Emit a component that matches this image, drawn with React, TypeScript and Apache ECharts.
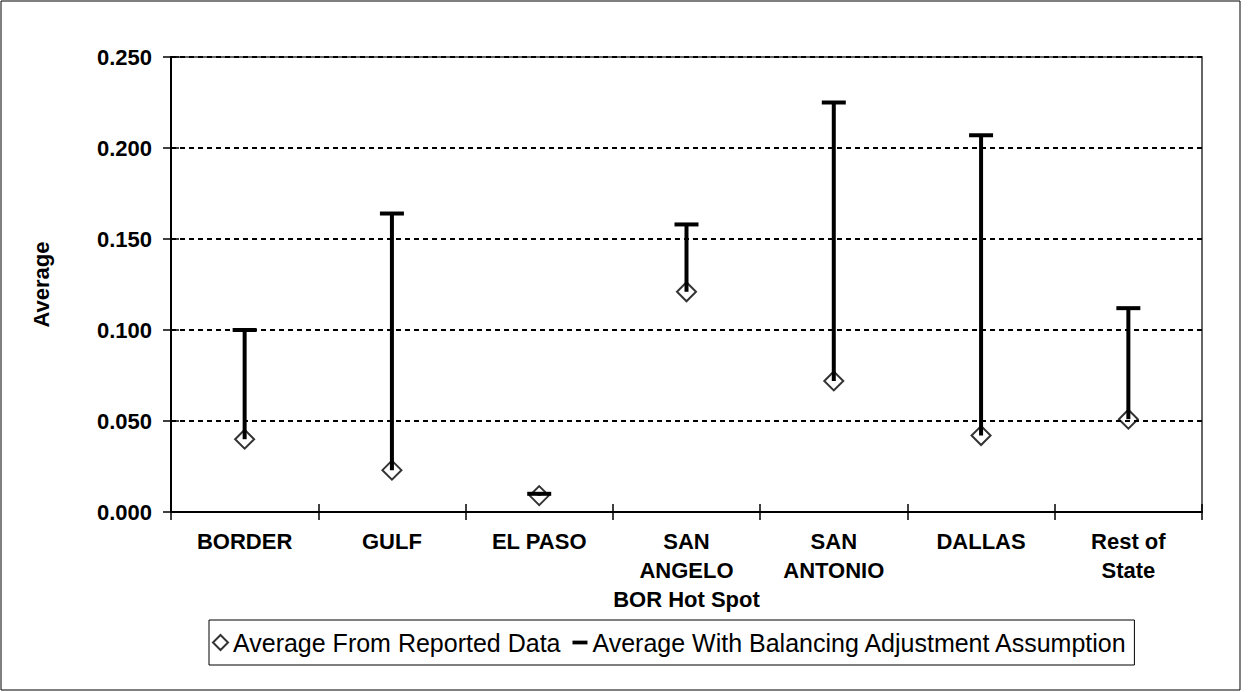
import React, { useEffect, useRef } from "react";
import * as echarts from "echarts";

const categories = [
  "BORDER",
  "GULF",
  "EL PASO",
  "SAN\nANGELO\nBOR Hot Spot",
  "SAN\nANTONIO",
  "DALLAS",
  "Rest of\nState",
];
const reported = [0.04, 0.023, 0.009, 0.121, 0.072, 0.042, 0.051];
const balanced = [0.1, 0.164, 0.01, 0.158, 0.225, 0.207, 0.112];
const seriesNames = [
  "Average From Reported Data",
  "Average With Balancing Adjustment Assumption",
];
const yTitle = "Average";

const FONT = "'Liberation Sans', Arial, sans-serif";

export default function App() {
  const ref = useRef<HTMLDivElement>(null);
  useEffect(() => {
    if (!ref.current) return;
    const chart = echarts.init(ref.current, null, { renderer: "svg" });
    const yCommon = {
      type: "value",
      min: 0,
      max: 0.25,
      interval: 0.05,
    };
    chart.setOption({
      animation: false,
      backgroundColor: "#fff",
      textStyle: { fontFamily: FONT },
      grid: {
        left: 171,
        right: 47,
        top: 57,
        bottom: 180,
        show: true,
        borderColor: "#333",
        borderWidth: 1.5,
      },
      graphic: [
        {
          type: "rect",
          shape: { x: 1, y: 1, width: 1239, height: 689 },
          style: { fill: "none", stroke: "#000", lineWidth: 1 },
          silent: true,
        },
      ],
      legend: {
        left: 209,
        top: 620,
        orient: "horizontal",
        borderColor: "#000",
        borderWidth: 1,
        padding: [10, 6, 10, 3],
        itemGap: 12,
        itemWidth: 15,
        itemHeight: 15,
        textStyle: { fontFamily: FONT, fontSize: 25, color: "#000" },
        data: [
          { name: seriesNames[0], icon: "diamond" },
          { name: seriesNames[1], icon: "path://M0,0 L16,0 L16,4 L0,4 Z" },
        ],
      },
      xAxis: [
        {
          type: "category",
          data: categories,
          boundaryGap: true,
          axisLine: { lineStyle: { color: "#000", width: 2 } },
          axisTick: { show: true, length: 8, lineStyle: { color: "#000", width: 1.5 } },
          axisLabel: {
            color: "#000",
            fontFamily: FONT,
            fontWeight: "bold",
            fontSize: 22,
            lineHeight: 29,
            margin: 15,
            interval: 0,
          },
        },
        {
          type: "category",
          data: categories,
          position: "bottom",
          boundaryGap: true,
          axisLine: { show: false },
          axisTick: { show: true, inside: true, length: 8, lineStyle: { color: "#000", width: 1.5 } },
          axisLabel: { show: false },
        },
      ],
      yAxis: [
        {
          ...yCommon,
          name: yTitle,
          nameLocation: "middle",
          nameGap: 119,
          nameTextStyle: {
            color: "#000",
            fontFamily: FONT,
            fontWeight: "bold",
            fontSize: 22,
          },
          axisLine: { show: true, lineStyle: { color: "#000", width: 2 } },
          axisTick: { show: true, length: 8, lineStyle: { color: "#000", width: 1.5 } },
          axisLabel: {
            color: "#000",
            fontFamily: FONT,
            fontWeight: "bold",
            fontSize: 22,
            margin: 19,
            formatter: (v: number) => v.toFixed(3),
          },
          splitLine: {
            show: true,
            lineStyle: { color: "#000", width: 2, type: [5, 4] },
          },
        },
        {
          ...yCommon,
          position: "left",
          axisLine: { show: false },
          axisTick: { show: true, inside: true, length: 8, lineStyle: { color: "#000", width: 1.5 } },
          axisLabel: { show: false },
          splitLine: { show: false },
        },
      ],
      series: [
        {
          name: seriesNames[0],
          type: "scatter",
          xAxisIndex: 0,
          yAxisIndex: 0,
          symbol: "diamond",
          symbolSize: 19,
          itemStyle: { color: "rgba(255,255,255,0)", borderColor: "#000", borderWidth: 2 },
          data: reported,
          z: 3,
        },
        {
          name: seriesNames[1],
          type: "custom",
          xAxisIndex: 0,
          yAxisIndex: 0,
          itemStyle: { color: "#000" },
          encode: { x: 0, y: [1, 2] },
          data: categories.map((_, i) => [i, reported[i], balanced[i]]),
          renderItem: (params: any, api: any) => {
            const idx = api.value(0);
            const lo = api.coord([idx, api.value(1)]);
            const hi = api.coord([idx, api.value(2)]);
            return {
              type: "group",
              children: [
                {
                  type: "line",
                  shape: { x1: lo[0], y1: lo[1], x2: hi[0], y2: hi[1] },
                  style: { stroke: "#000", lineWidth: 4 },
                },
                {
                  type: "line",
                  shape: { x1: hi[0] - 12, y1: hi[1], x2: hi[0] + 12, y2: hi[1] },
                  style: { stroke: "#000", lineWidth: 4 },
                },
              ],
            };
          },
          z: 4,
        },
      ],
    });
    return () => chart.dispose();
  }, []);
  return (
    <div
      ref={ref}
      style={{ position: "fixed", left: 0, top: 0, width: 1249, height: 692, background: "#fff" }}
    />
  );
}
